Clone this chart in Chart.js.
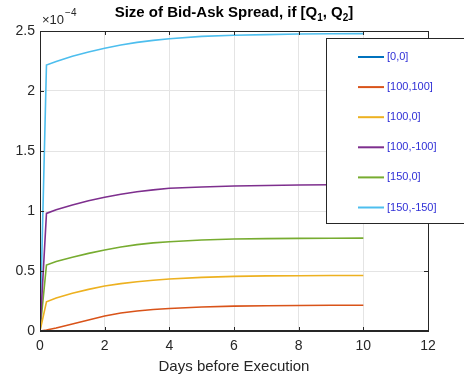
<!DOCTYPE html>
<html>
<head>
<meta charset="utf-8">
<script src="https://cdn.jsdelivr.net/npm/chart.js@4.4.1/dist/chart.umd.min.js"></script>
<style>
  html, body { margin: 0; padding: 0; background: #fff; }
  #wrap { position: relative; width: 464px; height: 381px; }
</style>
</head>
<body>
<div id="wrap"><canvas id="c" width="464" height="381"></canvas></div>
<script>
// Days before execution (x values)
const days = [0, 0.2, 0.5, 1, 1.5, 2, 2.5, 3, 3.5, 4, 5, 6, 7, 8, 9, 10];
// Spread values, in units of 1e-4
const SCALE_EXP = -4;
const s0_0      = [0, 0, 0, 0, 0, 0, 0, 0, 0, 0, 0, 0, 0, 0, 0, 0];
const s100_100  = [0, 0.008, 0.025, 0.058, 0.092, 0.125, 0.150, 0.167, 0.179, 0.188, 0.200, 0.207, 0.211, 0.213, 0.214, 0.214];
const s100_0    = [0, 0.244, 0.275, 0.314, 0.347, 0.375, 0.395, 0.411, 0.423, 0.433, 0.447, 0.455, 0.459, 0.461, 0.462, 0.462];
const s100_m100 = [0, 0.980, 1.010, 1.050, 1.085, 1.114, 1.140, 1.160, 1.176, 1.189, 1.200, 1.208, 1.213, 1.217, 1.219, 1.220];
const s150_0    = [0, 0.550, 0.580, 0.614, 0.647, 0.675, 0.700, 0.720, 0.734, 0.744, 0.758, 0.767, 0.770, 0.772, 0.773, 0.774];
const s150_m150 = [0, 2.217, 2.245, 2.290, 2.325, 2.356, 2.383, 2.405, 2.422, 2.436, 2.455, 2.465, 2.470, 2.475, 2.477, 2.478];
const seriesLabels = ['[0,0]', '[100,100]', '[100,0]', '[100,-100]', '[150,0]', '[150,-150]'];
const seriesValues = [s0_0, s100_100, s100_0, s100_m100, s150_0, s150_m150];
const seriesColors = ['#0072BD', '#D95319', '#EDB120', '#7E2F8E', '#77AC30', '#4DBEEE'];
const xTicks = [0, 2, 4, 6, 8, 10, 12];
const yTicks = [0, 0.5, 1, 1.5, 2, 2.5];

const FONT = '"Liberation Sans", Arial, sans-serif';
const AX = '#262626';

const datasets = seriesLabels.map((lab, i) => ({
  label: lab,
  data: days.map((d, j) => ({ x: d, y: seriesValues[i][j] })),
  borderColor: seriesColors[i],
  backgroundColor: seriesColors[i],
  borderWidth: 1.6,
  pointRadius: 0,
  tension: 0,
  fill: false
}));

const decor = {
  id: 'decor',
  afterDatasetsDraw(chart) {
    const ctx = chart.ctx;
    const a = chart.chartArea;
    ctx.save();
    const L = Math.round(a.left), R = Math.round(a.right), T = Math.round(a.top), B = Math.round(a.bottom);
    // axes box
    ctx.strokeStyle = AX;
    ctx.lineWidth = 1;
    ctx.strokeRect(L + 0.5, T + 0.5, R - L, B - T);
    ctx.fillStyle = AX;
    ctx.fillRect(L, B - 1, R - L + 1, 2);
    // inward ticks
    const xs = chart.scales.x, ys = chart.scales.y;
    ctx.beginPath();
    xTicks.forEach(t => {
      const px = Math.round(xs.getPixelForValue(t)) + 0.5;
      ctx.moveTo(px, B); ctx.lineTo(px, B - 4);
      ctx.moveTo(px, T); ctx.lineTo(px, T + 4);
    });
    yTicks.forEach(t => {
      const py = Math.round(ys.getPixelForValue(t)) + 0.5;
      ctx.moveTo(L, py); ctx.lineTo(L + 4, py);
      ctx.moveTo(R, py); ctx.lineTo(R - 4, py);
    });
    ctx.stroke();

    // exponent label
    ctx.fillStyle = AX;
    ctx.textBaseline = 'alphabetic';
    ctx.textAlign = 'left';
    ctx.font = '13px ' + FONT;
    ctx.fillText('\u00d710', 42, 24);
    const w10 = ctx.measureText('\u00d710').width;
    ctx.font = '10px ' + FONT;
    ctx.fillText(String.fromCharCode(8722) + Math.abs(SCALE_EXP), 42 + w10 + 1, 16);

    // title with subscripts
    const parts = [
      ['Size of Bid-Ask Spread, if [Q', 0], ['1', 1], [', Q', 0], ['2', 1], [']', 0]
    ];
    const bigF = 'bold 15px ' + FONT, smallF = 'bold 10px ' + FONT;
    let w = 0;
    parts.forEach(p => { ctx.font = p[1] ? smallF : bigF; w += ctx.measureText(p[0]).width; });
    let x = (a.left + a.right) / 2 - w / 2;
    ctx.fillStyle = '#000';
    parts.forEach(p => {
      ctx.font = p[1] ? smallF : bigF;
      ctx.fillText(p[0], x, p[1] ? 21 : 17);
      x += ctx.measureText(p[0]).width;
    });

    // legend box
    const lx = 326, ly = 38, lw = 150, lh = 185;
    ctx.fillStyle = '#fff';
    ctx.fillRect(lx, ly, lw, lh);
    ctx.strokeStyle = AX;
    ctx.lineWidth = 1;
    ctx.strokeRect(lx + 0.5, ly + 0.5, lw, lh);
    ctx.font = '11px ' + FONT;
    ctx.textBaseline = 'middle';
    chart.data.datasets.forEach((ds, i) => {
      const yy = 57 + i * 30.1;
      ctx.strokeStyle = ds.borderColor;
      ctx.lineWidth = 2;
      ctx.beginPath();
      ctx.moveTo(358, yy); ctx.lineTo(384, yy);
      ctx.stroke();
      ctx.fillStyle = '#2f2fd6';
      ctx.fillText(ds.label, 387, yy);
    });
    ctx.restore();
  }
};

new Chart(document.getElementById('c'), {
  type: 'line',
  data: { datasets },
  options: {
    responsive: false,
    animation: false,
    devicePixelRatio: 1,
    layout: { padding: { top: 31, right: 36, left: 0, bottom: 0 } },
    plugins: { legend: { display: false }, title: { display: false }, tooltip: { enabled: false } },
    scales: {
      x: {
        type: 'linear', min: 0, max: 12,
        afterBuildTicks: s => { s.ticks = xTicks.map(v => ({ value: v })); },
        afterFit: s => { s.height = 50; },
        grid: { color: '#e4e4e4', drawTicks: false, lineWidth: 1 },
        border: { display: false },
        ticks: { color: AX, padding: 7, font: { family: FONT, size: 14 }, maxRotation: 0 },
        title: { display: true, text: 'Days before Execution', color: AX, padding: { top: 1, bottom: 5 },
                 font: { family: FONT, size: 15 } }
      },
      y: {
        type: 'linear', min: 0, max: 2.5,
        afterBuildTicks: s => { s.ticks = yTicks.map(v => ({ value: v })); },
        afterFit: s => { s.width = 40; },
        grid: { color: '#e4e4e4', drawTicks: false, lineWidth: 1 },
        border: { display: false },
        ticks: { color: AX, padding: 5, font: { family: FONT, size: 14 },
                 callback: v => String(v) }
      }
    }
  },
  plugins: [decor]
});
</script>
</body>
</html>
